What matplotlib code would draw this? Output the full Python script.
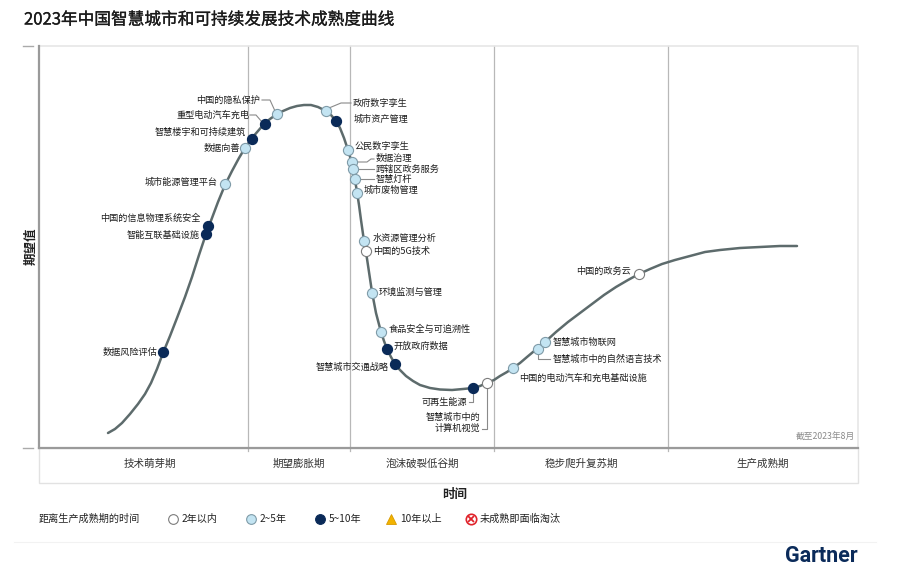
import numpy as np
import matplotlib.pyplot as plt
import matplotlib.patheffects as pe
from matplotlib.patches import Rectangle
from matplotlib.lines import Line2D

plt.rcParams['font.family'] = ['Noto Sans CJK SC', 'DejaVu Sans']

W, H = 913, 588

# hype curve (time, expectation)
curve_x = [69, 76, 83, 91, 99, 106, 112, 118, 124, 131, 138, 146, 153, 160, 167, 173, 179,
           186, 193, 200, 206, 213, 219, 225, 231, 238, 244, 251, 258, 265, 272, 279, 283,
           287, 292, 297, 301, 305, 309, 312, 314, 316, 318, 320, 322, 325, 327, 330, 333,
           337, 342, 345, 348, 352, 356, 361, 367, 374, 381, 391, 401, 413, 424, 434, 441,
           448, 455, 461, 468, 474, 481, 488, 494, 499, 506, 517, 529, 541, 553, 565, 577,
           589, 600, 611, 623, 636, 651, 666, 681, 701, 721, 741, 758]
curve_y = [15, 19, 25, 34, 44, 54, 65, 79, 95, 112, 130, 151, 171, 193, 214, 230, 246,
           263, 277, 290, 300, 310, 317, 324, 329, 334, 337, 340, 342, 343, 343, 341, 339,
           337, 333, 327, 320, 310, 298, 288, 279, 268, 256, 243, 228, 207, 196, 176, 156,
           135, 116, 107, 99, 91, 84, 78, 72, 67, 63, 60, 58.5, 58, 59, 60, 62,
           65, 68, 72, 76, 80, 85, 91, 96, 100, 106, 116, 126, 135, 144, 153, 161,
           168, 174, 179, 184, 188, 192, 196, 198, 200, 201, 202, 202]

tech_names = ['数据风险评估', '智能互联基础设施', '中国的信息物理系统安全', '城市能源管理平台',
              '数据向善', '智慧楼宇和可持续建筑', '重型电动汽车充电', '中国的隐私保护',
              '政府数字孪生', '城市资产管理', '公民数字孪生', '数据治理', '跨辖区政务服务',
              '智慧灯杆', '城市废物管理', '水资源管理分析', '中国的5G技术', '环境监测与管理',
              '食品安全与可追溯性', '开放政府数据', '智慧城市交通战略', '可再生能源',
              '智慧城市中的\n计算机视觉', '中国的电动汽车和充电基础设施', '智慧城市中的自然语言技术',
              '智慧城市物联网', '中国的政务云']
tech_x = [124, 167, 169, 186, 206, 213, 226, 238, 287, 297, 309, 313, 314, 316, 318,
          325, 327, 333, 342, 348, 356, 434, 448, 474, 499, 506, 600]
tech_y = [96, 214, 222, 264, 300, 309, 324, 334, 337, 327, 298, 286, 279, 269, 255,
          207, 197, 155, 116, 99, 84, 60, 65, 80, 99, 106, 174]
# years to plateau: 0 = <2, 1 = 2~5, 2 = 5~10
tech_group = [2, 2, 2, 1, 1, 2, 2, 1, 1, 2, 1, 1, 1, 1, 1, 1, 0, 1, 1, 2, 2, 2, 0, 1, 1, 1, 0]

phase_names = ['技术萌芽期', '期望膨胀期', '泡沫破裂低谷期', '稳步爬升复苏期', '生产成熟期']
phase_edges = [0, 209, 311, 455, 629, 819]

legend_labels = ['2年以内', '2~5年', '5~10年', '10年以上', '未成熟即面临淘汰']

# label layout: (x, y, ha)
label_pos = [(118, 96, 'right'), (161, 213, 'right'), (161, 230, 'right'), (179, 266, 'right'),
             (201, 299, 'right'), (207, 316, 'right'), (210, 333, 'right'), (221, 348, 'right'),
             (314, 345, 'left'), (315, 329, 'left'), (316, 302, 'left'), (337, 289, 'left'),
             (337, 279, 'left'), (337, 269, 'left'), (325, 258, 'left'), (334, 210, 'left'),
             (334, 197, 'left'), (340, 156, 'left'), (350, 119, 'left'), (354, 102, 'left'),
             (350, 81, 'right'), (428, 46, 'right'), (441, 25, 'right'), (480, 70, 'left'),
             (514, 89, 'left'), (514, 106, 'left'), (592, 177, 'right')]
connectors = {
    6: [(211, 333), (217, 333), (223, 326)],
    7: [(223, 348), (231, 348), (236, 337)],
    8: [(290, 340), (302, 345), (312, 345)],
    11: [(318, 286), (328, 286), (332, 289), (335, 289)],
    12: [(319, 279), (335, 279)],
    13: [(321, 269), (335, 269)],
    21: [(430, 46), (434, 46), (434, 55)],
    22: [(448, 60), (448, 19), (443, 19)],
    24: [(499, 94), (499, 89), (511, 89)],
}

face = ['white', '#c3e4f2', '#0a2a58']
edge = ['#7c7c7c', '#7f9ba8', '#0a2a58']

fig = plt.figure(figsize=(W / 100, H / 100), dpi=100)

def fx(px):
    return px / W

def fy(py):
    return 1 - py / H

ax = fig.add_axes([fx(39), fy(448), fx(858) - fx(39), fy(46) - fy(448)])
ax.set_xlim(0, 819)
ax.set_ylim(0, 402)
ax.axis('off')

# frame
ax.plot([0, 819, 819], [402, 402, 0], color='#e6e6e6', lw=1.2, clip_on=False)
ax.plot([0, 0], [0, 402], color='#9a9a9a', lw=1.6, clip_on=False, zorder=3)
ax.plot([0, 819], [0, 0], color='#9a9a9a', lw=1.6, clip_on=False, zorder=3)
for e in phase_edges[1:-1]:
    ax.plot([e, e], [-3, 402], color='#b8b8b8', lw=0.9, clip_on=False, zorder=1)

# phase band
ax.add_patch(Rectangle((0, -35), 819, 35, facecolor='white', edgecolor='#e2e2e2',
                       lw=1.0, clip_on=False, zorder=0))
for i, name in enumerate(phase_names):
    ax.text((phase_edges[i] + phase_edges[i + 1]) / 2 + (6 if i == 0 else 0), -16, name,
            ha='center', va='center', fontsize=7.6, color='#333333')

# small left ticks
fig.add_artist(Line2D([fx(23), fx(33)], [fy(46), fy(46)], color='#aaaaaa', lw=1.0))
fig.add_artist(Line2D([fx(23), fx(33)], [fy(448), fy(448)], color='#aaaaaa', lw=1.0))

# curve
ax.plot(curve_x, curve_y, color='#5d6b6c', lw=1.8, zorder=2,
        solid_capstyle='round', solid_joinstyle='round')

# connectors
for i, pts in connectors.items():
    xs, ys = zip(*pts)
    ax.plot(xs, ys, color='#8a8a8a', lw=0.8, zorder=2)

# markers and labels
for i, name in enumerate(tech_names):
    g = tech_group[i]
    ax.plot(tech_x[i], tech_y[i], 'o', ms=7.3, mfc=face[g], mec=edge[g], mew=0.8, zorder=4)
    lx, ly, ha = label_pos[i]
    ax.text(lx, ly, name, ha=ha, va='center', fontsize=6.6, color='#1e1e1e',
            linespacing=1.25, zorder=5)

ax.text(816, 11, '截至2023年8月', ha='right', va='center', fontsize=6.3, color='#8a8a8a')

# titles
fig.text(fx(24), fy(20), '2023年中国智慧城市和可持续发展技术成熟度曲线', ha='left', va='center',
         fontsize=12, color='#1a1a1a',
         path_effects=[pe.withStroke(linewidth=0.2, foreground='#1a1a1a')])
fig.text(fx(31), fy(246), '期望值', rotation=90, ha='center', va='center', fontsize=9,
         fontweight='bold', color='#222222')
fig.text(fx(455), fy(494), '时间', ha='center', va='center', fontsize=9,
         fontweight='bold', color='#222222')

# legend
fig.text(fx(39), fy(519), '距离生产成熟期的时间', ha='left', va='center', fontsize=7.3,
         color='#222222')
leg_x = [173, 251, 320, 391, 471]
for j, lab in enumerate(legend_labels):
    mx = fx(leg_x[j])
    my = fy(519)
    if j < 3:
        fig.add_artist(Line2D([mx], [my], marker='o', ms=7, mfc=face[j], mec=edge[j], mew=0.8))
    elif j == 3:
        fig.add_artist(Line2D([mx], [my], marker='^', ms=7.5, mfc='#f2b300', mec='#d89a00', mew=0.6))
    else:
        fig.add_artist(Line2D([mx], [my], marker='o', ms=7.5, mfc='white', mec='#e0242c', mew=1.2))
        fig.add_artist(Line2D([mx], [my], marker='x', ms=4, mec='#e0242c', mew=1.3))
    fig.text(fx(leg_x[j] + 9), my, lab, ha='left', va='center', fontsize=7.3, color='#222222')

# faint separator and logo
fig.add_artist(Line2D([fx(14), fx(876)], [fy(542), fy(542)], color='#f2f2f2', lw=0.8))
fig.text(fx(858), fy(556), 'Gartner', ha='right', va='center', fontsize=15.5,
         fontweight='bold', color='#0b2b5a', family='Roboto')

fig.savefig('out.png', dpi=100)
